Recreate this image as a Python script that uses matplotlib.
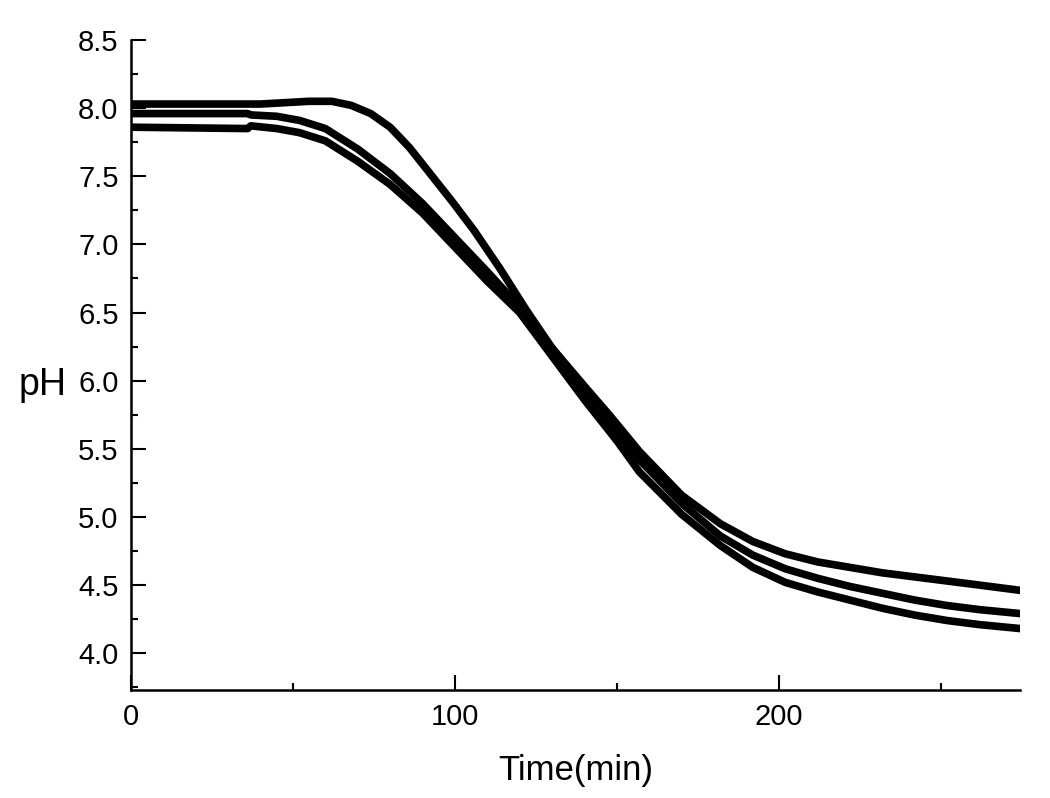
import matplotlib
matplotlib.use("Agg")
import matplotlib.pyplot as plt
from matplotlib.ticker import MultipleLocator

plt.rcParams['font.family'] = ['Liberation Sans', 'DejaVu Sans']

# three pH runs (time in min)
t_a = [0, 20, 40, 55, 62, 68, 74, 80, 86, 92, 99, 106, 114, 122, 130, 140,
       148, 157, 170, 182, 192, 202, 212, 222, 232, 242, 252, 262, 275]
ph_a = [8.03, 8.03, 8.03, 8.05, 8.05, 8.02, 7.96, 7.86, 7.71, 7.53, 7.32, 7.1,
        6.82, 6.52, 6.24, 5.96, 5.74, 5.48, 5.16, 4.95, 4.82, 4.73, 4.67, 4.63,
        4.59, 4.56, 4.53, 4.5, 4.46]

t_b = [0, 36, 37, 45, 52, 60, 70, 80, 90, 100, 110, 120, 130, 140, 150, 157,
       170, 182, 192, 202, 212, 222, 232, 242, 252, 262, 275]
ph_b = [7.96, 7.96, 7.95, 7.94, 7.91, 7.85, 7.7, 7.52, 7.3, 7.05, 6.8, 6.54,
        6.24, 5.93, 5.64, 5.42, 5.1, 4.86, 4.72, 4.62, 4.55, 4.49, 4.44, 4.39,
        4.35, 4.32, 4.29]

t_c = [0, 36, 37, 45, 52, 60, 70, 80, 90, 100, 110, 120, 130, 140, 150, 157,
       170, 182, 192, 202, 212, 222, 232, 242, 252, 262, 275]
ph_c = [7.86, 7.85, 7.87, 7.85, 7.82, 7.76, 7.61, 7.44, 7.23, 6.98, 6.73, 6.5,
        6.18, 5.86, 5.56, 5.33, 5.02, 4.79, 4.63, 4.52, 4.45, 4.39, 4.33, 4.28,
        4.24, 4.21, 4.18]

fig = plt.figure(figsize=(10.5, 7.98), dpi=100)
ax = fig.add_axes([0.1248, 0.1353, 0.8466, 0.8146])

for t, ph in [(t_a, ph_a), (t_b, ph_b), (t_c, ph_c)]:
    ax.plot(t, ph, color='black', lw=5.5, solid_joinstyle='round',
            solid_capstyle='butt')

ax.set_xlim(0, 274.5)
ax.set_ylim(3.73, 8.5)
ax.xaxis.set_major_locator(MultipleLocator(100))
ax.xaxis.set_minor_locator(MultipleLocator(50))
ax.yaxis.set_major_locator(MultipleLocator(0.5))
ax.yaxis.set_minor_locator(MultipleLocator(0.25))
ax.yaxis.set_major_formatter(plt.FormatStrFormatter('%.1f'))

for s in ['top', 'right']:
    ax.spines[s].set_visible(False)
for s in ['left', 'bottom']:
    ax.spines[s].set_linewidth(1.8)

ax.tick_params(which='major', direction='in', length=11, width=1.5,
               labelsize=21, colors='black')
ax.tick_params(which='minor', direction='in', length=5, width=1.5)
ax.tick_params(axis='y', which='major', pad=9)
ax.tick_params(axis='x', which='major', pad=9)

ax.set_xlabel('Time(min)', fontsize=25, labelpad=17)
ax.set_ylabel('pH', fontsize=27, rotation=0, va='center', ha='center')
ax.yaxis.set_label_coords(-0.1, 0.47)

fig.savefig('out.png', dpi=100)
